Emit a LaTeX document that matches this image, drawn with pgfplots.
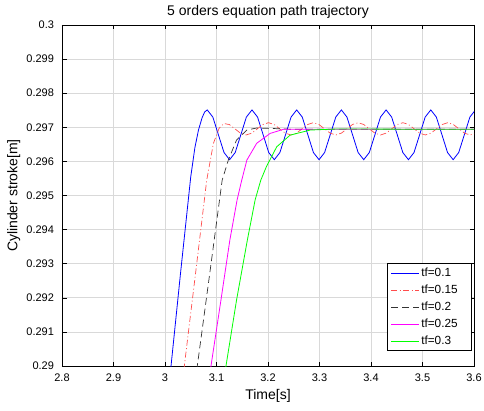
\documentclass[border=0pt]{standalone}
\usepackage{fontspec}
\setmainfont{Liberation Sans}
\usepackage{pgfplots}
\pgfplotsset{compat=1.18}
\definecolor{mblue}{rgb}{0,0,1}
\definecolor{mred}{rgb}{1,0.3,0.3}
\definecolor{mdark}{rgb}{0.2,0.2,0.2}
\definecolor{mmag}{rgb}{1,0,1}
\definecolor{mgreen}{rgb}{0,1,0}
\definecolor{mgrid}{rgb}{0.85,0.85,0.85}
\begin{document}
\begin{tikzpicture}
\begin{axis}[name=ax,width=412pt,height=341pt,scale only axis,
  xmin=2.8,xmax=3.6,ymin=0.29,ymax=0.3,
  xtick={2.8,2.9,...,3.6},
  ytick={0.29,0.291,0.292,0.293,0.294,0.295,0.296,0.297,0.298,0.299,0.3},
  scaled x ticks=false,scaled y ticks=false,
  xticklabel style={/pgf/number format/.cd,fixed,precision=1,/tikz/.cd,yshift=-4pt},
  yticklabel style={/pgf/number format/.cd,fixed,precision=3,/tikz/.cd,xshift=-4.5pt},
  /pgf/number format/assume math mode=true,
  tick align=inside,tick pos=both,
  major tick length=4.5pt,
  grid=major,grid style={mgrid,line width=0.8pt},
  axis line style={line width=0.6pt},
  tick style={black,line width=0.6pt},
  ticklabel style={font=\fontsize{11}{13}\selectfont},
  title={5 orders equation path trajectory},
  title style={font=\fontsize{14}{16}\selectfont,at={(axis description cs:0.5,1)},anchor=center,yshift=7pt},
  xlabel={Time[s]},ylabel={Cylinder stroke[m]},
  label style={font=\fontsize{14}{16}\selectfont},
  xlabel style={at={(axis description cs:0.5,-0.088)},anchor=center},
  ylabel style={at={(axis description cs:-0.117,0.5)},anchor=center},
  legend style={at={(axis description cs:0.995,0.044)},anchor=south east,
    font=\fontsize{11.8}{13}\selectfont,line width=0.5pt,
    cells={anchor=west,inner xsep=1.5pt,inner ysep=2pt},
    row sep=3pt,inner xsep=3pt,inner ysep=2.5pt},
  legend image code/.code={\draw[#1,line width=1pt] (0pt,0pt) -- (27.6pt,0pt);},
  clip=true]
\addplot[color=mblue,draw=mblue,line width=0.8pt] coordinates {
(3.000,0.28825) (3.0117,0.2900) (3.030,0.2927) (3.050,0.29555) (3.058,0.2964)
(3.065,0.29692) (3.072,0.29728) (3.077,0.29745) (3.0820,0.29751)
(3.0929,0.29730) (3.1037,0.29678) (3.1146,0.29626) (3.1255,0.29605)
(3.1363,0.29626) (3.1472,0.29678) (3.1580,0.29730) (3.1689,0.29751)
(3.1797,0.29730) (3.1906,0.29678) (3.2014,0.29626) (3.2123,0.29605)
(3.2231,0.29626) (3.2340,0.29678) (3.2448,0.29730) (3.2557,0.29751)
(3.2665,0.29730) (3.2774,0.29678) (3.2882,0.29626) (3.2991,0.29605)
(3.3099,0.29626) (3.3208,0.29678) (3.3316,0.29730) (3.3425,0.29751)
(3.3533,0.29730) (3.3642,0.29678) (3.3750,0.29626) (3.3859,0.29605)
(3.3967,0.29626) (3.4076,0.29678) (3.4184,0.29730) (3.4293,0.29751)
(3.4401,0.29730) (3.4510,0.29678) (3.4618,0.29626) (3.4727,0.29605)
(3.4835,0.29626) (3.4944,0.29678) (3.5052,0.29730) (3.5161,0.29751)
(3.5269,0.29730) (3.5378,0.29678) (3.5486,0.29626) (3.5595,0.29605)
(3.5703,0.29626) (3.5812,0.29678) (3.5920,0.29730) (3.6029,0.29751)
};
\addlegendentry{tf=0.1\hspace*{9pt}}
\addplot[color=mred,draw=mred,dash pattern=on 6pt off 2.5pt on 1pt off 2.5pt,line width=0.7pt] coordinates {
(3.020,0.2878) (3.0375,0.2900) (3.060,0.2928) (3.081,0.29545) (3.094,0.29653)
(3.105,0.29697) (3.1140,0.29711)
(3.1249,0.297082) (3.1357,0.296955) (3.1466,0.296828) (3.1575,0.296775)
(3.1684,0.296828) (3.1792,0.296955) (3.1901,0.297082) (3.2010,0.297135)
(3.2119,0.297082) (3.2227,0.296955) (3.2336,0.296828) (3.2445,0.296775)
(3.2554,0.296828) (3.2662,0.296955) (3.2771,0.297082) (3.2880,0.297135)
(3.2989,0.297082) (3.3097,0.296955) (3.3206,0.296828) (3.3315,0.296775)
(3.3424,0.296828) (3.3532,0.296955) (3.3641,0.297082) (3.3750,0.297135)
(3.3859,0.297082) (3.3967,0.296955) (3.4076,0.296828) (3.4185,0.296775)
(3.4294,0.296828) (3.4402,0.296955) (3.4511,0.297082) (3.4620,0.297135)
(3.4729,0.297082) (3.4837,0.296955) (3.4946,0.296828) (3.5055,0.296775)
(3.5164,0.296828) (3.5272,0.296955) (3.5381,0.297082) (3.5490,0.297135)
(3.5599,0.297082) (3.5707,0.296955) (3.5816,0.296828) (3.5925,0.296775)
(3.6034,0.296828)
};
\addlegendentry{tf=0.15\hspace*{9pt}}
\addplot[color=mdark,draw=mdark,dash pattern=on 7pt off 4pt,line width=0.7pt] coordinates {
(3.050,0.2886) (3.0627,0.2900) (3.085,0.2925) (3.111,0.29545) (3.123,0.29604)
(3.139,0.29663) (3.159,0.29692) (3.178,0.29698) (3.200,0.29697) (3.250,0.29694)
(3.600,0.29694)
};
\addlegendentry{tf=0.2\hspace*{9pt}}
\addplot[color=mmag,draw=mmag,line width=0.8pt] coordinates {
(3.070,0.2880) (3.0893,0.2900) (3.1087,0.29194) (3.126,0.2937) (3.140,0.29487)
(3.149,0.29545) (3.159,0.29604) (3.178,0.29653) (3.204,0.29682) (3.230,0.29694)
(3.600,0.29694)
};
\addlegendentry{tf=0.25\hspace*{9pt}}
\addplot[color=mgreen,draw=mgreen,line width=0.8pt] coordinates {
(3.100,0.2882) (3.1184,0.2900) (3.139,0.29194) (3.160,0.2937) (3.175,0.29487)
(3.186,0.29545) (3.197,0.29585) (3.217,0.29643) (3.243,0.29677) (3.282,0.29692)
(3.333,0.29695) (3.600,0.29694)
};
\addlegendentry{tf=0.3\hspace*{9pt}}
\end{axis}
\pgfresetboundingbox
\path ([shift={(-62pt,-44pt)}]ax.south west) rectangle ([shift={(10pt,25pt)}]ax.north east);
\end{tikzpicture}
\end{document}
